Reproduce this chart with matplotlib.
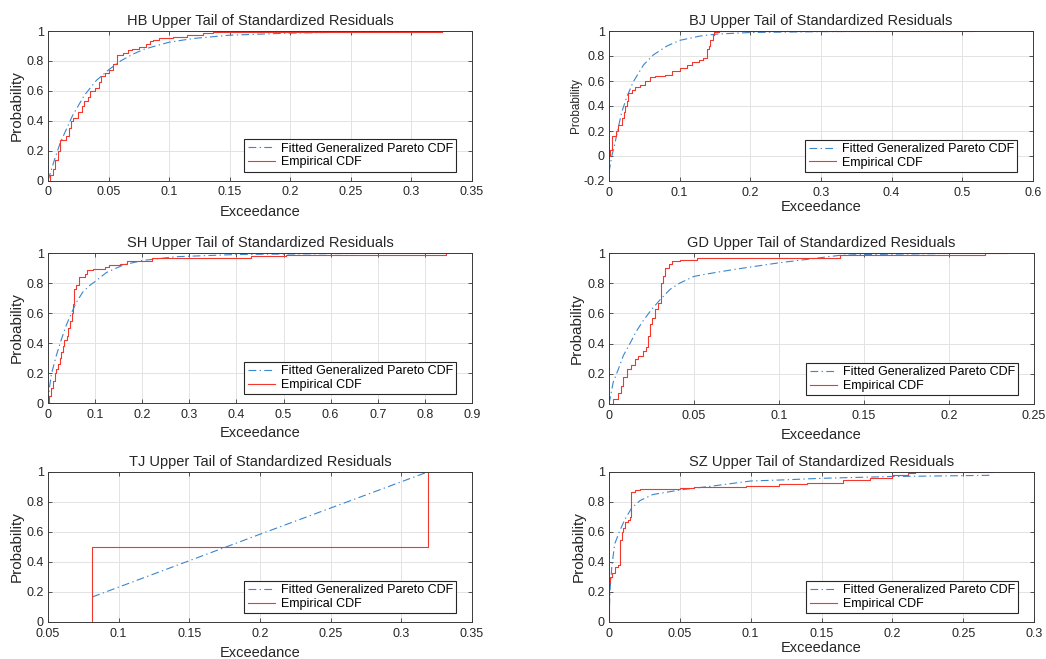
import numpy as np
import matplotlib
matplotlib.use("Agg")
import matplotlib.pyplot as plt
from matplotlib.ticker import FormatStrFormatter

plt.rcParams['font.family'] = ['Liberation Sans', 'DejaVu Sans']

# Values
hb_emp_x = [0, 0.002, 0.004, 0.006, 0.008, 0.0095, 0.015, 0.017, 0.019, 0.021, 0.025, 0.028,
            0.030, 0.033, 0.035, 0.039, 0.042, 0.044, 0.047, 0.050, 0.054, 0.057, 0.062, 0.066,
            0.069, 0.075, 0.081, 0.084, 0.087, 0.092, 0.103, 0.115, 0.128, 0.136, 0.325]
hb_emp_y = [0, 0.04, 0.08, 0.14, 0.20, 0.27, 0.30, 0.35, 0.40, 0.42, 0.46, 0.50,
            0.53, 0.56, 0.60, 0.62, 0.66, 0.70, 0.72, 0.74, 0.78, 0.84, 0.855, 0.87,
            0.88, 0.89, 0.91, 0.93, 0.94, 0.955, 0.96, 0.975, 0.985, 0.99, 1.0]
hb_fit_x = [0, 0.005, 0.01, 0.02, 0.03, 0.04, 0.05, 0.06, 0.07, 0.08, 0.1, 0.12, 0.15, 0.2, 0.25, 0.325]
hb_fit_y = [0, 0.13, 0.25, 0.43, 0.57, 0.67, 0.74, 0.80, 0.845, 0.88, 0.925, 0.95, 0.972, 0.986, 0.993, 1.0]

bj_emp_x = [0, 0.002, 0.004, 0.010, 0.013, 0.018, 0.021, 0.023, 0.025, 0.027, 0.032, 0.037,
            0.044, 0.051, 0.058, 0.065, 0.079, 0.089, 0.100, 0.110, 0.117, 0.127, 0.133, 0.139,
            0.141, 0.143, 0.147, 0.149, 0.155, 0.515]
bj_emp_y = [0, 0.05, 0.16, 0.20, 0.25, 0.30, 0.35, 0.40, 0.44, 0.50, 0.53, 0.55,
            0.57, 0.60, 0.63, 0.64, 0.65, 0.68, 0.70, 0.73, 0.75, 0.77, 0.785, 0.86,
            0.88, 0.93, 0.97, 0.99, 1.0, 1.0]
bj_fit_x = [0, 0.004, 0.008, 0.012, 0.018, 0.025, 0.034, 0.049, 0.063, 0.082, 0.1, 0.129,
            0.152, 0.2, 0.3, 0.4, 0.515]
bj_fit_y = [-0.13, 0.0, 0.09, 0.20, 0.35, 0.47, 0.59, 0.73, 0.81, 0.88, 0.925, 0.96,
            0.975, 0.988, 0.995, 0.998, 1.0]

sh_emp_x = [0, 0.003, 0.007, 0.011, 0.014, 0.018, 0.021, 0.025, 0.028, 0.032, 0.035, 0.040,
            0.043, 0.047, 0.050, 0.053, 0.055, 0.060, 0.066, 0.078, 0.082, 0.096, 0.120, 0.130,
            0.153, 0.167, 0.22, 0.43, 0.505, 0.845]
sh_emp_y = [0, 0.05, 0.10, 0.15, 0.20, 0.23, 0.26, 0.30, 0.34, 0.38, 0.42, 0.45,
            0.50, 0.55, 0.60, 0.66, 0.76, 0.79, 0.84, 0.86, 0.885, 0.895, 0.905, 0.92,
            0.93, 0.95, 0.965, 0.98, 0.99, 1.0]
sh_fit_x = [0, 0.003, 0.007, 0.018, 0.028, 0.039, 0.05, 0.06, 0.074, 0.089, 0.1, 0.124,
            0.16, 0.2, 0.27, 0.4, 0.6, 0.845]
sh_fit_y = [0, 0.10, 0.19, 0.32, 0.42, 0.52, 0.60, 0.67, 0.74, 0.785, 0.81, 0.87,
            0.92, 0.95, 0.975, 0.99, 0.996, 1.0]

gd_emp_x = [0, 0.0025, 0.0055, 0.007, 0.0084, 0.0103, 0.013, 0.015, 0.017, 0.020, 0.0216, 0.023,
            0.024, 0.025, 0.027, 0.029, 0.0304, 0.032, 0.033, 0.035, 0.037, 0.042, 0.052, 0.136,
            0.221, 0.234]
gd_emp_y = [0, 0.03, 0.07, 0.12, 0.18, 0.23, 0.26, 0.30, 0.32, 0.35, 0.38, 0.45,
            0.53, 0.57, 0.63, 0.67, 0.80, 0.85, 0.90, 0.93, 0.95, 0.955, 0.97, 0.99,
            1.0, 1.0]
gd_fit_x = [0, 0.0025, 0.0055, 0.0084, 0.0123, 0.016, 0.02, 0.025, 0.03, 0.036, 0.0415, 0.05,
            0.057, 0.073, 0.1, 0.136, 0.15, 0.2, 0.234]
gd_fit_y = [0, 0.145, 0.23, 0.32, 0.40, 0.48, 0.55, 0.625, 0.69, 0.76, 0.80, 0.845,
            0.86, 0.89, 0.935, 0.985, 0.99, 0.997, 1.0]

tj_emp_x = [0.0814, 0.0814, 0.3186, 0.3186]
tj_emp_y = [0, 0.5, 1.0, 1.0]
tj_fit_x = [0.0814, 0.2, 0.3186]
tj_fit_y = [0.167, 0.585, 1.0]

sz_emp_x = [0, 0.0001, 0.001, 0.002, 0.004, 0.0066, 0.0077, 0.008, 0.009, 0.010, 0.0113, 0.0136,
            0.0148, 0.0153, 0.018, 0.022, 0.0335, 0.05, 0.06, 0.097, 0.1, 0.12, 0.14, 0.165,
            0.184, 0.2, 0.211, 0.216, 0.27]
sz_emp_y = [0, 0.27, 0.30, 0.33, 0.37, 0.38, 0.42, 0.55, 0.60, 0.63, 0.67, 0.68,
            0.70, 0.865, 0.88, 0.885, 0.89, 0.895, 0.90, 0.905, 0.91, 0.92, 0.93, 0.945,
            0.96, 0.983, 0.993, 1.0, 1.0]
sz_fit_x = [0, 0.0007, 0.002, 0.004, 0.0077, 0.011, 0.016, 0.022, 0.031, 0.05, 0.076, 0.1,
            0.125, 0.15, 0.2, 0.27]
sz_fit_y = [0, 0.21, 0.37, 0.52, 0.61, 0.68, 0.76, 0.81, 0.85, 0.88, 0.91, 0.94,
            0.948, 0.958, 0.97, 0.978]

panels = [
    # name, emp x, emp y, fit x, fit y, xlim, xstep, ylim
    ("HB", hb_emp_x, hb_emp_y, hb_fit_x, hb_fit_y, (0, 0.35), 0.05, (0, 1)),
    ("BJ", bj_emp_x, bj_emp_y, bj_fit_x, bj_fit_y, (0, 0.6), 0.1, (-0.2, 1)),
    ("SH", sh_emp_x, sh_emp_y, sh_fit_x, sh_fit_y, (0, 0.9), 0.1, (0, 1)),
    ("GD", gd_emp_x, gd_emp_y, gd_fit_x, gd_fit_y, (0, 0.25), 0.05, (0, 1)),
    ("TJ", tj_emp_x, tj_emp_y, tj_fit_x, tj_fit_y, (0.05, 0.35), 0.05, (0, 1)),
    ("SZ", sz_emp_x, sz_emp_y, sz_fit_x, sz_fit_y, (0, 0.3), 0.05, (0, 1)),
]

W, H = 1046, 659
# axes boxes in pixels: left, top, right, bottom
boxes = [(48, 31, 472, 180.5), (609, 31, 1033, 181),
         (48, 253, 472, 403), (609, 253, 1034, 404),
         (48, 472, 472, 622), (609, 472, 1034, 622)]
xlabel_y = [-0.211, -0.172, -0.2, -0.205, -0.207, -0.173]
ylabel_x = [-0.073, -0.078, -0.073, -0.075, -0.073, -0.071]
ylabel_size = [11, 8.5, 11, 11, 11, 11]

blue = '#3a86cf'
red = '#f2382c'
txt = '#262626'

fig = plt.figure(figsize=(W / 100, H / 100), dpi=100)

for i, (name, ex, ey, fx, fy, xl, xs, yl) in enumerate(panels):
    l, t, r, b = boxes[i]
    ax = fig.add_axes([l / W, 1 - b / H, (r - l) / W, (b - t) / H])
    ax.plot(fx, fy, color=blue, lw=0.8, dashes=(7, 3, 1.2, 3),
            label='Fitted Generalized Pareto CDF')
    ax.step(ex, ey, where='post', color=red, lw=0.8, label='Empirical CDF')

    ax.set_xlim(*xl)
    ax.set_ylim(*yl)
    ax.set_xticks(np.arange(xl[0], xl[1] + xs / 2, xs))
    ax.set_yticks(np.arange(yl[0], yl[1] + 0.1, 0.2))
    ax.xaxis.set_major_formatter(FormatStrFormatter('%g'))
    ax.yaxis.set_major_formatter(FormatStrFormatter('%g'))
    ax.grid(True, color='#e3e3e3', lw=0.7)
    ax.set_axisbelow(True)
    for s in ax.spines.values():
        s.set_color('#3a3a3a')
        s.set_linewidth(0.7)
    ax.tick_params(direction='in', length=3, width=0.6, top=True, right=True,
                   labelsize=9, colors='#3a3a3a', labelcolor=txt)
    ax.tick_params(axis='x', pad=4)
    ax.tick_params(axis='y', pad=3)

    ax.set_title(name + ' Upper Tail of Standardized Residuals', fontsize=10.5, color=txt, pad=4)
    ax.set_xlabel('Exceedance', fontsize=10.5, color=txt)
    ax.xaxis.set_label_coords(0.5, xlabel_y[i])
    ax.xaxis.label.set_va('center')
    ax.set_ylabel('Probability', fontsize=ylabel_size[i], color=txt)
    ax.yaxis.set_label_coords(ylabel_x[i], 0.5)
    ax.yaxis.label.set_va('center')

    w, h = r - l, b - t
    leg = ax.legend(loc='lower right', bbox_to_anchor=((w - 16) / w, 9 / h),
                    borderaxespad=0, fontsize=9, handlelength=2.2, handletextpad=0.45,
                    borderpad=0.25, labelspacing=0.15, fancybox=False, framealpha=1)
    leg.get_frame().set_edgecolor('#262626')
    leg.get_frame().set_linewidth(0.8)

fig.savefig('out.png', dpi=100)
